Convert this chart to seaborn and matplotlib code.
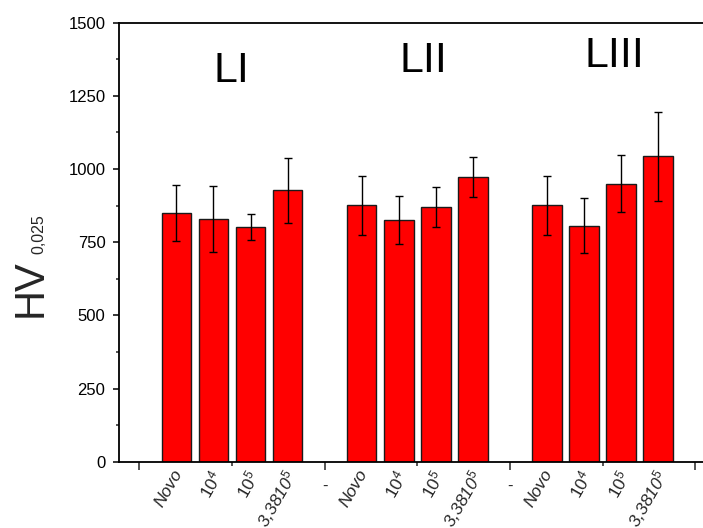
import numpy as np
import pandas as pd
import matplotlib
matplotlib.use("Agg")
import matplotlib.pyplot as plt
import seaborn as sns

# Microhardness HV0,025 per layer (LI, LII, LIII) and cycle condition
layers = ["LI", "LII", "LIII"]
conditions = ["Novo", "10^4", "10^5", "3,3810^5"]
hv_LI = [850, 830, 802, 927]
hv_LII = [876, 826, 871, 973]
hv_LIII = [876, 806, 950, 1043]
err_LI = [96, 112, 44, 112]
err_LII = [100, 82, 68, 68]
err_LIII = [100, 94, 98, 152]

tick_texts = [r"Novo", r"$\mathit{10^{4}}$", r"$\mathit{10^{5}}$", r"3,3810$\mathit{^{5}}$"]
y_ticks = [0, 250, 500, 750, 1000, 1250, 1500]

sns.set_theme(style="ticks")
plt.rcParams["font.family"] = ["Liberation Sans", "DejaVu Sans"]
plt.rcParams["mathtext.fontset"] = "custom"
plt.rcParams["mathtext.rm"] = "Liberation Sans"
plt.rcParams["mathtext.it"] = "Liberation Sans:italic"
plt.rcParams["mathtext.bf"] = "Liberation Sans:bold"

# one empty slot between layer groups
rows = []
for g, (name, vals, errs) in enumerate(zip(layers, [hv_LI, hv_LII, hv_LIII],
                                           [err_LI, err_LII, err_LIII])):
    for i, (c, v, e) in enumerate(zip(conditions, vals, errs)):
        rows.append({"layer": name, "cond": c, "pos": 5 * g + i, "hv": v, "err": e})
df = pd.DataFrame(rows)

W, H = 703, 528
fig = plt.figure(figsize=(W / 100, H / 100), dpi=100)
x_lo, x_hi = -1.55, 16.0
px_per_slot = 37.05
ax_left = 119.0
ax_right = ax_left + (x_hi - x_lo) * px_per_slot
ax_top, ax_bot = 22.7, 461.7
ax = fig.add_axes([ax_left / W, 1 - ax_bot / H, (ax_right - ax_left) / W, (ax_bot - ax_top) / H])

sns.barplot(data=df, x="pos", y="hv", native_scale=True, color="#FF0000",
            saturation=1, width=0.8, edgecolor="#1a1a1a", linewidth=1.0,
            errorbar=None, ax=ax)
ax.errorbar(df["pos"], df["hv"], yerr=df["err"], fmt="none", ecolor="black",
            elinewidth=1.0, capsize=2.9, capthick=1.0, zorder=5)

ax.set_xlim(x_lo, x_hi)
ax.set_ylim(0, 1500)
ax.set_xlabel("")
ax.set_ylabel("")

for s in ["top", "bottom", "left"]:
    ax.spines[s].set_linewidth(1.3)
    ax.spines[s].set_color("black")
ax.spines["right"].set_visible(False)

# y axis ticks
ax.set_yticks(y_ticks)
ax.set_yticklabels([str(t) for t in y_ticks], fontsize=12)
ax.set_yticks(np.arange(125, 1500, 250), minor=True)
ax.tick_params(axis="y", which="major", length=4.3, width=1.1, direction="out", pad=5.5, colors="black")
ax.tick_params(axis="y", which="minor", length=2.2, width=1.1, direction="out")

# x axis ticks (unlabelled), labels placed under each bar slot
ax.set_xticks([-1, 4, 9, 14])
ax.set_xticklabels([])
ax.set_xticks([1.5, 6.5, 11.5], minor=True)
ax.tick_params(axis="x", which="major", length=5.8, width=1.1, direction="out")
ax.tick_params(axis="x", which="minor", length=2.9, width=1.1, direction="out")

trans = ax.get_xaxis_transform()
for g in range(3):
    for i, t in enumerate(tick_texts):
        ax.text(5 * g + i - 0.12, -0.012, t, transform=trans, rotation=60,
                rotation_mode="anchor", ha="right", va="top", fontsize=12.5,
                fontstyle="italic", clip_on=False)
for p in [4, 9]:
    ax.text(p, -0.057, "-", transform=trans, ha="center", va="center",
            fontsize=12, clip_on=False)

# layer captions
label_pos = [(1.48, 1298), (6.67, 1330), (11.83, 1348)]
for name, (lx, ly) in zip(layers, label_pos):
    ax.text(lx, ly, name, ha="center", va="baseline", fontsize=31, color="black")

# y axis title: HV with a small subscript
fig.text(42 / W, 1 - 288 / H, "HV", rotation=90, rotation_mode="anchor",
         ha="center", va="baseline", fontsize=30)
fig.text(43 / W, 1 - 234 / H, "0,025", rotation=90, rotation_mode="anchor",
         ha="center", va="baseline", fontsize=11.5)

fig.savefig("out.png", dpi=100)
